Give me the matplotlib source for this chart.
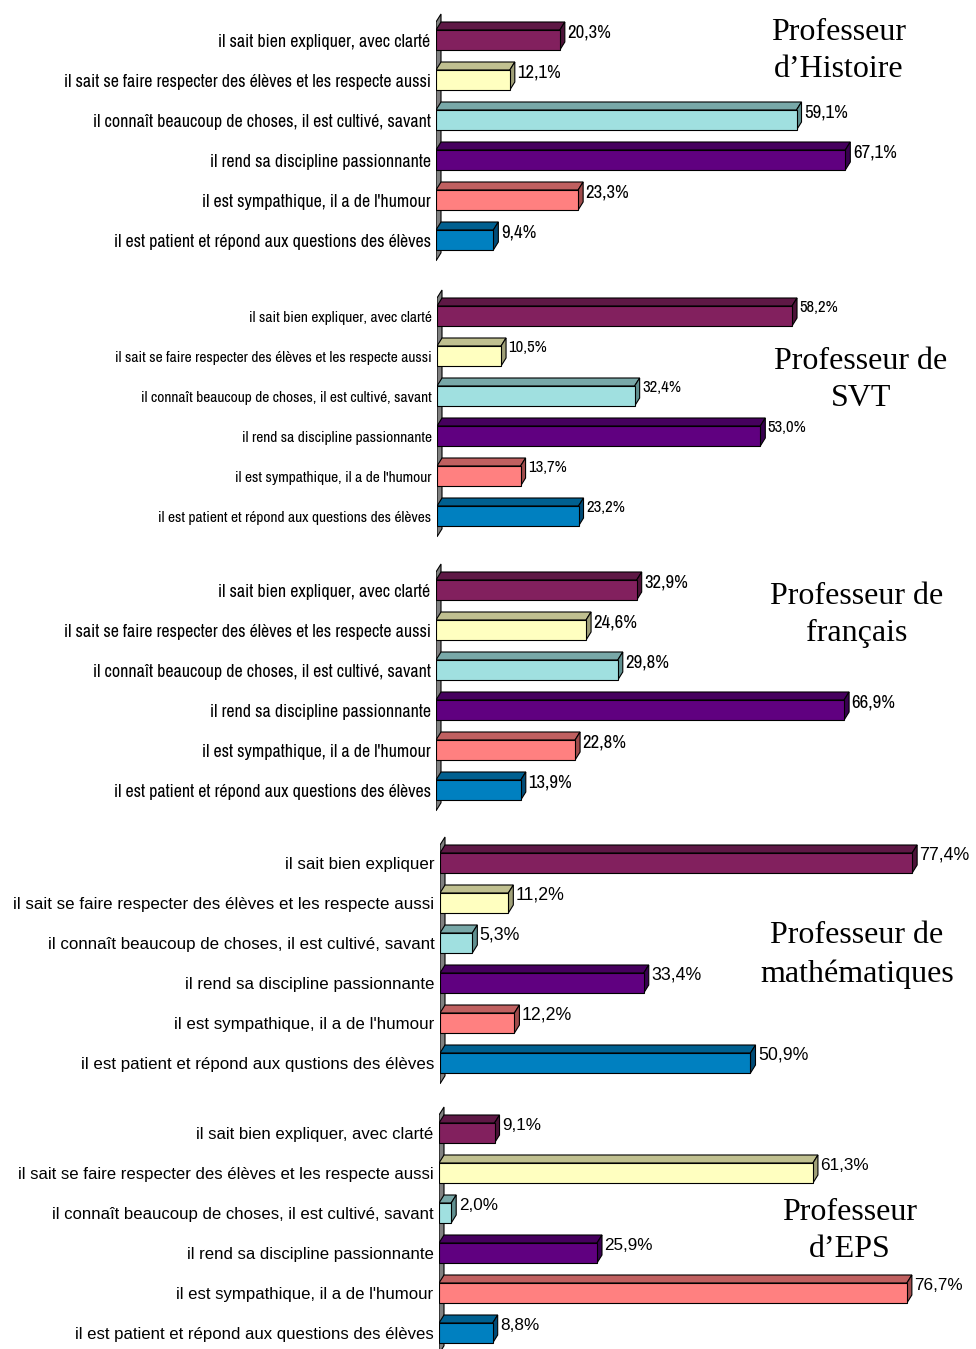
import matplotlib.pyplot as plt
from matplotlib.patches import Polygon
from matplotlib import font_manager

# critères (ordre du haut vers le bas)
labels = ["il sait bien expliquer, avec clarté",
          "il sait se faire respecter des élèves et les respecte aussi",
          "il connaît beaucoup de choses, il est cultivé, savant",
          "il rend sa discipline passionnante",
          "il est sympathique, il a de l'humour",
          "il est patient et répond aux questions des élèves"]
labels_maths = ["il sait bien expliquer",
                "il sait se faire respecter des élèves et les respecte aussi",
                "il connaît beaucoup de choses, il est cultivé, savant",
                "il rend sa discipline passionnante",
                "il est sympathique, il a de l'humour",
                "il est patient et répond aux qustions des élèves"]

titres = ["Professeur\nd’Histoire", "Professeur de\nSVT", "Professeur de\nfrançais",
          "Professeur de\nmathématiques", "Professeur\nd’EPS"]

histoire = [20.3, 12.1, 59.1, 67.1, 23.3, 9.4]
svt = [58.2, 10.5, 32.4, 53.0, 13.7, 23.2]
francais = [32.9, 24.6, 29.8, 66.9, 22.8, 13.9]
maths = [77.4, 11.2, 5.3, 33.4, 12.2, 50.9]
eps = [9.1, 61.3, 2.0, 25.9, 76.7, 8.8]

# couleurs : face avant, dessus, côté
c_front = ["#82205E", "#FFFFC0", "#A0E0E0", "#600080", "#FF8080", "#0080C0"]
c_top = ["#5E1845", "#C0C090", "#78A8A8", "#46005E", "#C06060", "#006090"]
c_side = ["#4C1238", "#A0A078", "#609090", "#380050", "#A04C4C", "#004C78"]

names = {f.name for f in font_manager.fontManager.ttflist}
narrow = "DejaVu Sans"
for cand in ["Liberation Sans Narrow", "Arial Narrow", "Archivo Narrow", "Roboto Condensed",
             "PT Sans Narrow", "Asap Condensed", "DejaVu Sans Condensed"]:
    if cand in names:
        narrow = cand
        break

W, H = 976, 1349
PX = 6.1          # pixels par %
DX, DY = 5, 8     # profondeur 3D en pixels
SP = 40           # pixels entre barres

# (valeurs, libellés, centre 1re barre, bord gauche axe, police, taille, taille valeurs, titre x, titre y)
panels = [
    (histoire, labels, 40, 436, narrow, 12.9, 13.5, 839, 51),
    (svt, labels, 316, 437, narrow, 11.15, 12, 861, 380),
    (francais, labels, 590, 436, narrow, 12.9, 13.5, 857, 615),
    (maths, labels_maths, 863, 440, "Liberation Sans", 12.2, 12.8, 857, 955),
    (eps, labels, 1133, 439, "Liberation Sans", 12.05, 12.3, 850, 1231),
]

fig = plt.figure(figsize=(W / 100, H / 100), dpi=100)

for (vals, labs, c0, left, font, fs, vfs, tx, ty), titre in zip(panels, titres):
    top_px = c0 - 0.75 * SP
    height_px = 6.5 * SP
    ax = fig.add_axes([left / W, 1 - (top_px + height_px) / H, (W - left) / W, height_px / H])
    ax.set_xlim(0, (W - left) / PX)
    ax.set_ylim(5.75, -0.75)
    dx = DX / PX
    dy = DY / SP
    ax.axis("off")

    # paroi grise
    wall = Polygon([(0, -0.45), (0, 5.52), (dx, 5.52 - dy), (dx, -0.45 - dy)],
                   closed=True, facecolor="#808080", edgecolor="black", lw=0.8, zorder=1)
    ax.add_patch(wall)

    y = list(range(6))
    ax.barh(y, vals, height=0.5, left=0, color=c_front, edgecolor="black", lw=0.8, zorder=3)
    for i, v in enumerate(vals):
        yt = i - 0.25
        ax.add_patch(Polygon([(0, yt), (v, yt), (v + dx, yt - dy), (dx, yt - dy)],
                             closed=True, facecolor=c_top[i], edgecolor="black", lw=0.8, zorder=2))
        ax.add_patch(Polygon([(v, yt), (v, yt + 0.5), (v + dx, yt + 0.5 - dy), (v + dx, yt - dy)],
                             closed=True, facecolor=c_side[i], edgecolor="black", lw=0.8, zorder=2))
        ax.text(v + dx + 0.4, i - 0.2, f"{v:.1f}".replace(".", ",") + "%",
                ha="left", va="center", fontsize=vfs, family=font)
        ax.text(-0.9, i + 0.04, labs[i], ha="right", va="center", fontsize=fs, family=font)

    fig.text(tx / W, 1 - ty / H, titre, ha="center", va="center", multialignment="center",
             fontsize=23, family="Liberation Serif", linespacing=1.4)

fig.savefig("out.png", dpi=100)
